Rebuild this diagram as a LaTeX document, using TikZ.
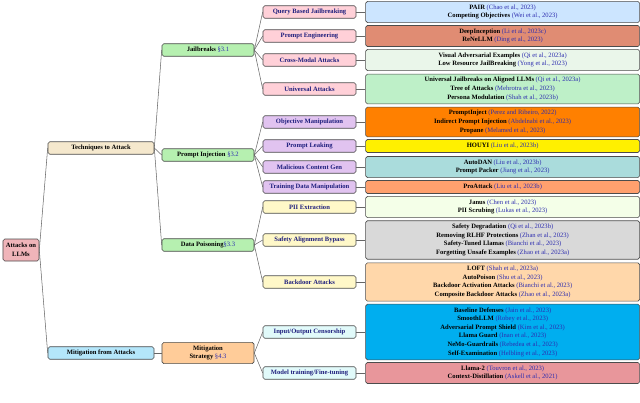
\documentclass[tikz,border=0pt]{standalone}
\usepackage{fontspec}
\setmainfont{Liberation Serif}
\usepackage{xcolor}
\usepackage{tikz}
\usetikzlibrary{positioning}

\definecolor{refblue}{RGB}{45,45,175}
\definecolor{navy}{RGB}{30,30,125}
\definecolor{rootred}{RGB}{240,180,185}
\definecolor{techbeige}{RGB}{245,232,205}
\definecolor{mitigblue}{RGB}{180,230,250}
\definecolor{branchgreen}{RGB}{182,240,176}
\definecolor{strategyorange}{RGB}{255,204,153}
\definecolor{jbpink}{RGB}{255,208,216}
\definecolor{pilavender}{RGB}{225,195,240}
\definecolor{dpyellow}{RGB}{255,248,200}
\definecolor{mscyan}{RGB}{225,250,250}

\newcommand{\citeitem}[2]{#1 \textcolor{refblue}{\textmd{(#2)}}}
\newcommand{\secref}[1]{\textcolor{refblue}{\textmd{#1}}}

\begin{document}
\begin{tikzpicture}[
  x=0.04cm, y=-0.04cm,
  node distance=3.6mm,
  box/.style   ={rectangle, draw=black!70, line width=0.7pt, rounded corners=2pt,
                 align=center, inner xsep=1pt, inner ysep=3.7pt,
                 font=\fontsize{7.5}{9.8}\selectfont\bfseries},
  rootbox/.style={box, fill=rootred, minimum width=14.4mm, minimum height=8.8mm},
  topic/.style ={box, minimum width=42.4mm, minimum height=5mm},
  branch/.style={box, fill=branchgreen, minimum width=36.8mm, minimum height=5mm},
  method/.style={box, text=navy, minimum width=37.2mm, minimum height=5mm},
  work/.style  ={box, minimum width=109.6mm, minimum height=5.2mm},
  link/.style  ={draw=black!60, line width=0.6pt}
]
  \useasboundingbox (0,0) rectangle (640,402);

  \node[rootbox]                      (root)  at (21,250)  {Attacks on\\LLMs};
  \node[topic, fill=techbeige]        (tech)  at (101,148) {Techniques to Attack};
  \node[topic, fill=mitigblue]        (mitig) at (101,353) {Mitigation from Attacks};

  \node[branch]                       (jb)    at (208,50)  {Jailbreaks \secref{§3.1}};
  \node[branch]                       (pi)    at (208,155) {Prompt Injection \secref{§3.2}};
  \node[branch]                       (dp)    at (208,245) {Data Poisoning\secref{§3.3}};
  \node[branch, fill=strategyorange]  (ms)    at (208,353) {Mitigation\\Strategy \secref{§4.3}};

  \node[method, fill=jbpink]          (qbj)   at (309.5,12)  {Query Based Jailbreaking};
  \node[method, fill=jbpink]          (pe)    at (309.5,36)  {Prompt Engineering};
  \node[method, fill=jbpink]          (cma)   at (309.5,60)  {Cross-Modal Attacks};
  \node[method, fill=jbpink]          (ua)    at (309.5,89)  {Universal Attacks};
  \node[method, fill=pilavender]      (om)    at (309.5,122) {Objective Manipulation};
  \node[method, fill=pilavender]      (pl)    at (309.5,146) {Prompt Leaking};
  \node[method, fill=pilavender]      (mcg)   at (309.5,167) {Malicious Content Gen};
  \node[method, fill=pilavender]      (tdm)   at (309.5,187) {Training Data Manipulation};
  \node[method, fill=dpyellow]        (pii)   at (309.5,207) {PII Extraction};
  \node[method, fill=dpyellow]        (sab)   at (309.5,240) {Safety Alignment Bypass};
  \node[method, fill=dpyellow]        (ba)    at (309.5,282) {Backdoor Attacks};
  \node[method, fill=mscyan]          (ioc)   at (309.5,332) {Input/Output Censorship};
  \node[method, fill=mscyan]          (mtf)   at (309.5,373) {Model training/Fine-tuning};

  \node[work, right=of qbj, fill={rgb,255:red,204;green,229;blue,255}] (qbjw)
    {\citeitem{PAIR}{Chao et al., 2023}\\\citeitem{Competing Objectives}{Wei et al., 2023}};
  \node[work, right=of pe, fill={rgb,255:red,224;green,140;blue,115}] (pew)
    {\citeitem{DeepInception}{Li et al., 2023c}\\\citeitem{ReNeLLM}{Ding et al., 2023}};
  \node[work, right=of cma, fill={rgb,255:red,234;green,246;blue,234}] (cmaw)
    {\citeitem{Visual Adversarial Examples}{Qi et al., 2023a}\\\citeitem{Low Resource JailBreaking}{Yong et al., 2023}};
  \node[work, right=of ua, fill={rgb,255:red,190;green,240;blue,200}] (uaw)
    {\citeitem{Universal Jailbreaks on Aligned LLMs}{Qi et al., 2023a}\\\citeitem{Tree of Attacks}{Mehrotra et al., 2023}\\\citeitem{Persona Modulation}{Shah et al., 2023b}};
  \node[work, right=of om, fill={rgb,255:red,255;green,128;blue,0}] (omw)
    {\citeitem{PromptInject}{Perez and Ribeiro, 2022}\\\citeitem{Indirect Prompt Injection}{Abdelnabi et al., 2023}\\\citeitem{Propane}{Melamed et al., 2023}};
  \node[work, right=of pl, fill={rgb,255:red,255;green,240;blue,0}] (plw)
    {\citeitem{HOUYI}{Liu et al., 2023b}};
  \node[work, right=of mcg, fill={rgb,255:red,170;green,220;blue,220}] (mcgw)
    {\citeitem{AutoDAN}{Liu et al., 2023b}\\\citeitem{Prompt Packer}{Jiang et al., 2023}};
  \node[work, right=of tdm, fill={rgb,255:red,255;green,160;blue,110}] (tdmw)
    {\citeitem{ProAttack}{Liu et al., 2023b}};
  \node[work, right=of pii, fill={rgb,255:red,244;green,255;blue,232}] (piiw)
    {\citeitem{Janus}{Chen et al., 2023}\\\citeitem{PII Scrubing}{Lukas et al., 2023}};
  \node[work, right=of sab, fill={rgb,255:red,217;green,217;blue,217}] (sabw)
    {\citeitem{Safety Degradation}{Qi et al., 2023b}\\\citeitem{Removing RLHF Protections}{Zhan et al., 2023}\\\citeitem{Safety-Tuned Llamas}{Bianchi et al., 2023}\\\citeitem{Forgetting Unsafe Examples}{Zhao et al., 2023a}};
  \node[work, right=of ba, fill={rgb,255:red,255;green,215;blue,170}] (baw)
    {\citeitem{LOFT}{Shah et al., 2023a}\\\citeitem{AutoPoison}{Shu et al., 2023}\\\citeitem{Backdoor Activation Attacks}{Bianchi et al., 2023}\\\citeitem{Composite Backdoor Attacks}{Zhao et al., 2023a}};
  \node[work, right=of ioc, fill={rgb,255:red,0;green,174;blue,239}] (iocw)
    {\citeitem{Baseline Defenses}{Jain et al., 2023}\\\citeitem{SmoothLLM}{Robey et al., 2023}\\\citeitem{Adversarial Prompt Shield}{Kim et al., 2023}\\\citeitem{Llama Guard}{Inan et al., 2023}\\\citeitem{NeMo-Guardrails}{Rebedea et al., 2023}\\\citeitem{Self-Examination}{Helbling et al., 2023}};
  \node[work, right=of mtf, fill={rgb,255:red,232;green,150;blue,155}] (mtfw)
    {\citeitem{Llama-2}{Touvron et al., 2023}\\\citeitem{Context-Distillation}{Askell et al., 2021}};

  \draw[link] (root.east) -- (tech.west);
  \draw[link] (root.east) -- (mitig.west);
  \draw[link] (tech.east) -- (jb.west);
  \draw[link] (tech.east) -- (pi.west);
  \draw[link] (tech.east) -- (dp.west);
  \draw[link] (mitig.east) -- (ms.west);
  \draw[link] (jb.east) -- (qbj.west);
  \draw[link] (jb.east) -- (pe.west);
  \draw[link] (jb.east) -- (cma.west);
  \draw[link] (jb.east) -- (ua.west);
  \draw[link] (pi.east) -- (om.west);
  \draw[link] (pi.east) -- (pl.west);
  \draw[link] (pi.east) -- (mcg.west);
  \draw[link] (pi.east) -- (tdm.west);
  \draw[link] (dp.east) -- (pii.west);
  \draw[link] (dp.east) -- (sab.west);
  \draw[link] (dp.east) -- (ba.west);
  \draw[link] (ms.east) -- (ioc.west);
  \draw[link] (ms.east) -- (mtf.west);
  \draw[link] (qbj) -- (qbjw);
  \draw[link] (pe)  -- (pew);
  \draw[link] (cma) -- (cmaw);
  \draw[link] (ua)  -- (uaw);
  \draw[link] (om)  -- (omw);
  \draw[link] (pl)  -- (plw);
  \draw[link] (mcg) -- (mcgw);
  \draw[link] (tdm) -- (tdmw);
  \draw[link] (pii) -- (piiw);
  \draw[link] (sab) -- (sabw);
  \draw[link] (ba)  -- (baw);
  \draw[link] (ioc) -- (iocw);
  \draw[link] (mtf) -- (mtfw);
\end{tikzpicture}
\end{document}
